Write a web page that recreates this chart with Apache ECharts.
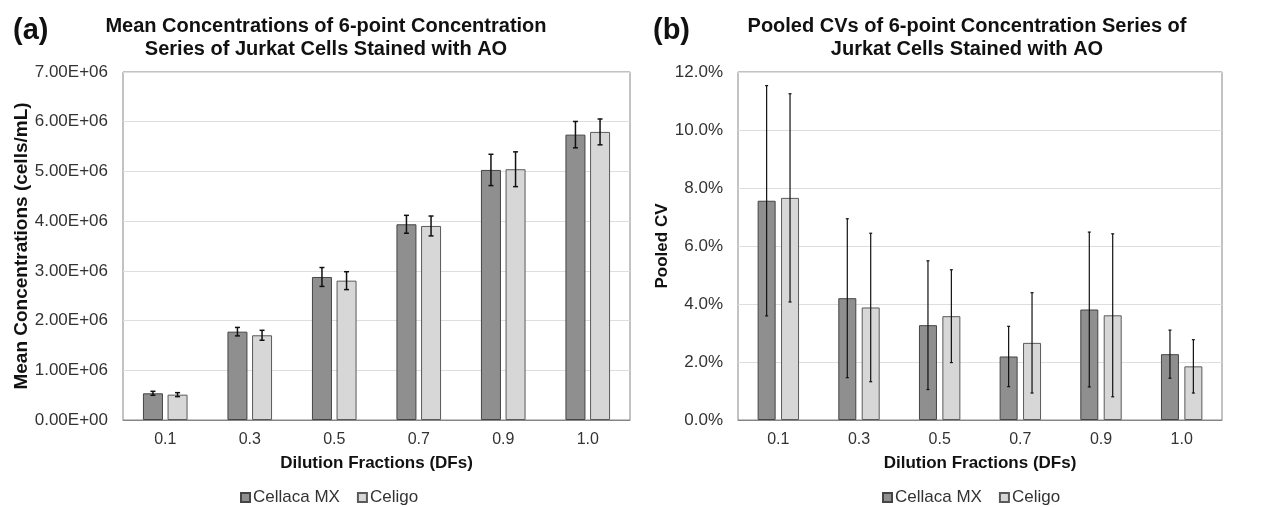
<!DOCTYPE html>
<html>
<head>
<meta charset="utf-8">
<script src="https://cdn.jsdelivr.net/npm/echarts@6/dist/echarts.min.js"></script>
<style>
  html, body { margin: 0; padding: 0; background: #ffffff; }
  #chart { width: 1274px; height: 507px; }
</style>
</head>
<body>
<div id="chart"></div>
<script>
// Dilution fractions on the category axis of both panels
const dilutionFractions = ['0.1', '0.3', '0.5', '0.7', '0.9', '1.0'];
const seriesNames = ['Cellaca MX', 'Celigo'];

// Panel (a): mean concentrations (cells/mL) and error half-widths
const meanCellaca = [0.537e6, 1.777e6, 2.877e6, 3.937e6, 5.030e6, 5.740e6];
const meanCeligo  = [0.510e6, 1.704e6, 2.803e6, 3.903e6, 5.044e6, 5.795e6];
const meanErrCellaca = [0.040e6, 0.085e6, 0.190e6, 0.180e6, 0.315e6, 0.265e6];
const meanErrCeligo  = [0.040e6, 0.100e6, 0.180e6, 0.200e6, 0.350e6, 0.260e6];

// Panel (b): pooled CV (%) and error half-widths
const cvCellaca = [7.56, 4.20, 3.27, 2.19, 3.81, 2.27];
const cvCeligo  = [7.66, 3.88, 3.58, 2.66, 3.61, 1.85];
const cvErrCellaca = [3.97, 2.74, 2.22, 1.04, 2.67, 0.83];
const cvErrCeligo  = [3.59, 2.56, 1.60, 1.73, 2.81, 0.92];

// Value axis ranges
const concAxis = { min: 0, max: 7e6, interval: 1e6 };
const cvAxis = { min: 0, max: 12, interval: 2 };

const FONT = "'Liberation Sans', Arial, sans-serif";
const TEXT = '#333333';
const DARK_FILL = '#8f8f8f';
const LIGHT_FILL = '#d7d7d7';

function sciLabel(v) {
  if (v === 0) return '0.00E+00';
  const e = Math.floor(Math.log10(v) + 1e-9);
  const m = v / Math.pow(10, e);
  return m.toFixed(2) + 'E+' + String(e).padStart(2, '0');
}

// Vertical error bar with caps, centred on one bar of a grouped pair
function errorBars(axisIndex, means, errs, offset, capHalf, lineWidth) {
  return {
    type: 'custom',
    xAxisIndex: axisIndex,
    yAxisIndex: axisIndex,
    silent: true,
    z: 10,
    encode: { x: 0, y: [1, 2] },
    data: means.map((m, i) => [i, m - errs[i], m + errs[i]]),
    renderItem(params, api) {
      const lo = api.coord([api.value(0), api.value(1)]);
      const hi = api.coord([api.value(0), api.value(2)]);
      const x = lo[0] + offset;
      const style = { stroke: '#111111', lineWidth: lineWidth };
      return {
        type: 'group',
        children: [
          { type: 'line', shape: { x1: x, y1: hi[1], x2: x, y2: lo[1] }, style },
          { type: 'line', shape: { x1: x - capHalf, y1: hi[1], x2: x + capHalf, y2: hi[1] }, style },
          { type: 'line', shape: { x1: x - capHalf, y1: lo[1], x2: x + capHalf, y2: lo[1] }, style }
        ]
      };
    }
  };
}

function barSeries(name, axisIndex, values, fill, border, width, gap) {
  return {
    name: name,
    type: 'bar',
    xAxisIndex: axisIndex,
    yAxisIndex: axisIndex,
    data: values,
    barWidth: width,
    barGap: gap,
    itemStyle: { color: fill, borderColor: border, borderWidth: 1 }
  };
}

function categoryAxis(gridIndex) {
  return {
    type: 'category',
    gridIndex: gridIndex,
    data: dilutionFractions,
    axisTick: { show: false },
    axisLine: { lineStyle: { color: '#868686', width: 1 } },
    axisLabel: { color: TEXT, fontSize: 16, fontFamily: FONT, margin: 12 },
    name: 'Dilution Fractions (DFs)',
    nameLocation: 'middle',
    nameGap: 35,
    nameTextStyle: { color: '#111111', fontSize: 17, fontWeight: 'bold', fontFamily: FONT }
  };
}

const chart = echarts.init(document.getElementById('chart'), null, { renderer: 'canvas' });

chart.setOption({
  animation: false,
  backgroundColor: '#ffffff',
  title: [
    { text: '(a)', left: 8, top: 11, textStyle: { fontSize: 29, fontWeight: 'bold', color: '#111111', fontFamily: FONT } },
    { text: '(b)', left: 648, top: 11, textStyle: { fontSize: 29, fontWeight: 'bold', color: '#111111', fontFamily: FONT } },
    {
      text: 'Mean Concentrations of 6-point Concentration\nSeries of Jurkat Cells Stained with AO',
      left: 321, top: 10, textAlign: 'center',
      textStyle: { fontSize: 20, fontWeight: 'bold', color: '#111111', fontFamily: FONT, lineHeight: 23 }
    },
    {
      text: 'Pooled CVs of 6-point Concentration Series of\nJurkat Cells Stained with AO',
      left: 962, top: 10, textAlign: 'center',
      textStyle: { fontSize: 20, fontWeight: 'bold', color: '#111111', fontFamily: FONT, lineHeight: 23 }
    }
  ],
  legend: [
    {
      data: seriesNames, left: 235, top: 484, itemWidth: 9, itemHeight: 9, itemGap: 17,
      icon: 'rect', selectedMode: false,
      textStyle: { color: TEXT, fontSize: 17, fontFamily: FONT, padding: [0, 0, 0, -2] }
    },
    {
      data: seriesNames, left: 877, top: 484, itemWidth: 9, itemHeight: 9, itemGap: 17,
      icon: 'rect', selectedMode: false,
      textStyle: { color: TEXT, fontSize: 17, fontFamily: FONT, padding: [0, 0, 0, -2] }
    }
  ],
  grid: [
    { left: 123, top: 72, width: 507, height: 348, show: true, borderColor: '#868686', borderWidth: 1 },
    { left: 738, top: 72, width: 484, height: 348, show: true, borderColor: '#868686', borderWidth: 1 }
  ],
  xAxis: [categoryAxis(0), categoryAxis(1)],
  yAxis: [
    {
      type: 'value', gridIndex: 0,
      min: concAxis.min, max: concAxis.max, interval: concAxis.interval,
      axisLine: { show: false }, axisTick: { show: false },
      splitLine: { lineStyle: { color: '#dedede', width: 1 } },
      axisLabel: { color: TEXT, fontSize: 17, fontFamily: FONT, margin: 15, formatter: sciLabel },
      name: 'Mean Concentrations (cells/mL)',
      nameLocation: 'middle', nameGap: 92,
      nameTextStyle: { color: '#111111', fontSize: 19, fontWeight: 'bold', fontFamily: FONT }
    },
    {
      type: 'value', gridIndex: 1,
      min: cvAxis.min, max: cvAxis.max, interval: cvAxis.interval,
      axisLine: { show: false }, axisTick: { show: false },
      splitLine: { lineStyle: { color: '#dedede', width: 1 } },
      axisLabel: { color: TEXT, fontSize: 17, fontFamily: FONT, margin: 15, formatter: v => v.toFixed(1) + '%' },
      name: 'Pooled CV',
      nameLocation: 'middle', nameGap: 58,
      nameTextStyle: { color: '#111111', fontSize: 17, fontWeight: 'bold', fontFamily: FONT }
    }
  ],
  series: [
    barSeries(seriesNames[0], 0, meanCellaca, DARK_FILL, '#454545', 20, '23%'),
    barSeries(seriesNames[1], 0, meanCeligo, LIGHT_FILL, '#5a5a5a', 20, '23%'),
    barSeries(seriesNames[0], 1, cvCellaca, DARK_FILL, '#454545', 18, '30%'),
    barSeries(seriesNames[1], 1, cvCeligo, LIGHT_FILL, '#5a5a5a', 18, '30%'),
    errorBars(0, meanCellaca, meanErrCellaca, -12.3, 2.5, 1.5),
    errorBars(0, meanCeligo, meanErrCeligo, 12.3, 2.5, 1.5),
    errorBars(1, cvCellaca, cvErrCellaca, -11.7, 1.5, 1.2),
    errorBars(1, cvCeligo, cvErrCeligo, 11.7, 1.5, 1.2)
  ]
});
</script>
</body>
</html>
